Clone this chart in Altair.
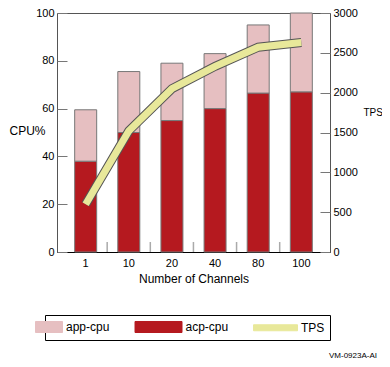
import altair as alt
import pandas as pd

channels = ["1", "10", "20", "40", "80", "100"]
acp_cpu = [38, 50, 55, 60, 66.5, 67]
app_cpu = [21.5, 25.5, 24, 23, 28.5, 33]
tps = [600, 1520, 2050, 2330, 2570, 2630]
series_names = ["app-cpu", "acp-cpu", "TPS"]
series_colors = ["#e6bfc1", "#b5191f", "#e8e89a"]
legend_shapes = [
    "M-3.5,-0.917H1V0.917H-3.5Z",
    "M-6.83,-0.917H1V0.917H-6.83Z",
    "M-6.33,-0.5H1V0.5H-6.33Z",
]

bars_df = pd.DataFrame(
    [{"channel": c, "series": "acp-cpu", "value": v, "ord": 0} for c, v in zip(channels, acp_cpu)]
    + [{"channel": c, "series": "app-cpu", "value": v, "ord": 1} for c, v in zip(channels, app_cpu)]
)
tps_df = pd.DataFrame({"channel": channels, "tps": tps, "series": "TPS"})
ticks_df = pd.DataFrame({"channel": channels[:-1]})
legend_df = pd.DataFrame({"series": series_names})

W, H = 273, 239
FONT = "Liberation Sans"

xscale = alt.Scale(domain=channels, paddingInner=0.49, paddingOuter=0.41)
xenc = alt.X(
    "channel:N",
    scale=xscale,
    sort=channels,
    axis=alt.Axis(
        title="Number of Channels",
        labelAngle=0,
        ticks=False,
        domain=True,
        domainColor="#000000",
        labelPadding=5,
        titlePadding=5,
    ),
)
color_enc = alt.Color(
    "series:N",
    scale=alt.Scale(domain=series_names, range=series_colors),
    title=None,
)

bars = alt.Chart(bars_df).mark_bar(stroke="#777777", strokeWidth=1).encode(
    x=xenc,
    y=alt.Y(
        "value:Q",
        stack="zero",
        scale=alt.Scale(domain=[0, 100], nice=False),
        axis=alt.Axis(
            title="CPU%",
            tickCount=5,
            offset=-10,
            domain=False,
            grid=False,
            tickSize=10,
            tickColor="#777777",
            labelPadding=3,
            labelOverlap=False,
            titleAngle=0,
            titleAlign="left",
            titleBaseline="middle",
            titleX=-58,
            titleY=117,
            titleFontSize=12,
        ),
    ),
    color=color_enc,
    order=alt.Order("ord:Q"),
)

xticks = alt.Chart(ticks_df).mark_rule(xOffset=21.5, color="#aaaaaa", strokeWidth=1.5).encode(
    x=alt.X("channel:N", scale=xscale, sort=channels),
    y=alt.value(H),
    y2=alt.value(H - 10),
)

left = alt.layer(bars, xticks)

line_outline = alt.Chart(tps_df).mark_line(
    color="#555555", strokeWidth=9, strokeCap="butt", strokeJoin="miter"
).encode(
    x=alt.X("channel:N", scale=xscale, sort=channels),
    y=alt.Y(
        "tps:Q",
        scale=alt.Scale(domain=[0, 3000], nice=False),
        axis=alt.Axis(
            title="TPS",
            orient="right",
            tickCount=6,
            labelExpr="replace(datum.label, ',', '')",
            offset=-10,
            domain=False,
            grid=False,
            tickSize=10,
            tickColor="#777777",
            labelPadding=3,
            labelOverlap=False,
            titleAngle=0,
            titleAlign="left",
            titleBaseline="middle",
            titleX=43,
            titleY=99,
            titleFontSize=10,
        ),
    ),
)
line_fill = alt.Chart(tps_df).mark_line(
    strokeWidth=7, strokeCap="butt", strokeJoin="miter"
).encode(
    x=alt.X("channel:N", scale=xscale, sort=channels),
    y=alt.Y("tps:Q", scale=alt.Scale(domain=[0, 3000], nice=False)),
    color=color_enc,
)
legend_pts = alt.Chart(legend_df).mark_point(size=0, filled=True, opacity=1).encode(
    color=color_enc,
    shape=alt.Shape("series:N", scale=alt.Scale(domain=series_names, range=legend_shapes), title=None),
)

right = alt.layer(line_outline, line_fill)

chart = (
    alt.layer(left, right, legend_pts)
    .resolve_scale(y="independent")
    .properties(
        width=W,
        height=H,
        autosize=alt.AutoSizeParams(type="none"),
        padding={"left": 49, "top": 5, "right": 52, "bottom": 107},
        title=alt.TitleParams(
            "VM-0923A-AI",
            orient="bottom",
            anchor="end",
            frame="group",
            dx=47,
            offset=11,
            fontSize=8,
            fontWeight="normal",
            font=FONT,
            color="#000000",
        ),
    )
    .configure_view(stroke="#555555", strokeWidth=1)
    .configure_axis(
        labelFont=FONT,
        titleFont=FONT,
        labelFontSize=11,
        titleFontSize=12,
        titleFontWeight="normal",
        labelColor="#000000",
        titleColor="#000000",
    )
    .configure_legend(
        orient="none",
        legendX=-12,
        legendY=302,
        direction="horizontal",
        strokeColor="#000000",
        strokeWidth=1,
        padding=5,
        columnPadding=22.5,
        labelFont=FONT,
        labelFontSize=12,
        labelColor="#000000",
        labelOffset=3,
        symbolSize=144,
        symbolStrokeColor="#555555",
        symbolStrokeWidth=1,
    )
)

chart.save("out.html", embed_options={"renderer": "svg", "actions": False})
